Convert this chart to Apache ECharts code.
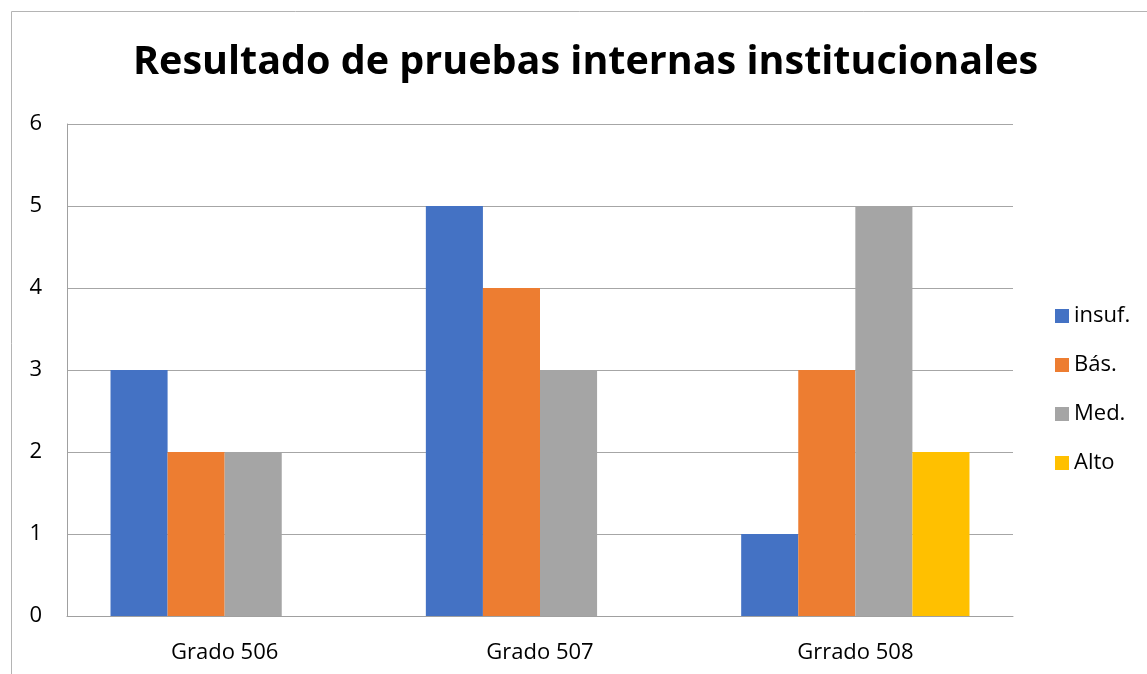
<!DOCTYPE html>
<html>
<head>
<meta charset="utf-8">
<script src="https://cdn.jsdelivr.net/npm/echarts@6/dist/echarts.min.js"></script>
<style>
html,body{margin:0;padding:0;background:#fff;}
#chart{width:1147px;height:674px;}
</style>
</head>
<body>
<div id="chart"></div>
<script>
const titleText = 'Resultado de pruebas internas institucionales';
const categories = ['Grado 506', 'Grado 507', 'Grrado 508'];
const seriesNames = ['insuf.', 'Bás.', 'Med.', 'Alto'];
const insuf = [3, 5, 1];
const basico = [2, 4, 3];
const medio = [2, 3, 5];
const alto = [0, 0, 2];
const yTicks = { min: 0, max: 6, interval: 1 };

const colors = ['#4472C4', '#ED7D31', '#A5A5A5', '#FFC000'];
const values = [insuf, basico, medio, alto];
const font = 'Open Sans';

const chart = echarts.init(document.getElementById('chart'), null, { renderer: 'canvas' });
chart.setOption({
  animation: false,
  backgroundColor: '#ffffff',
  color: colors,
  title: {
    text: titleText,
    left: 133,
    top: 43,
    padding: 0,
    textStyle: { fontFamily: font, fontWeight: 'bold', fontSize: 39.5, color: '#000' }
  },
  graphic: [{
    type: 'rect',
    shape: { x: 11.5, y: 11.5, width: 1200, height: 700 },
    style: { fill: 'none', stroke: '#b4b4b4', lineWidth: 1 },
    silent: true
  }],
  legend: {
    orient: 'vertical',
    left: 1055,
    top: 305,
    padding: 0,
    itemWidth: 14,
    itemHeight: 14,
    itemGap: 27,
    icon: 'rect',
    data: seriesNames,
    textStyle: { fontFamily: font, fontSize: 22, color: '#000', lineHeight: 22, padding: [0, 0, 0, 0] }
  },
  grid: { left: 67, top: 124, right: 134, bottom: 58, containLabel: false },
  xAxis: {
    type: 'category',
    data: categories,
    axisLine: { show: true, lineStyle: { color: '#a0a0a0', width: 1 } },
    axisTick: { show: false },
    axisLabel: { fontFamily: font, fontSize: 22, color: '#000', margin: 26 },
    splitLine: { show: false }
  },
  yAxis: {
    type: 'value',
    min: yTicks.min,
    max: yTicks.max,
    interval: yTicks.interval,
    axisLine: { show: true, lineStyle: { color: '#a0a0a0', width: 1 } },
    axisTick: { show: false },
    axisLabel: { fontFamily: font, fontSize: 22, color: '#000', margin: 25 },
    splitLine: { show: true, lineStyle: { color: '#a6a6a6', width: 1 } }
  },
  series: seriesNames.map((name, i) => ({
    name: name,
    type: 'bar',
    data: values[i],
    barGap: '0%',
    barCategoryGap: '27.6%',
    itemStyle: { color: colors[i] }
  }))
});
</script>
</body>
</html>
